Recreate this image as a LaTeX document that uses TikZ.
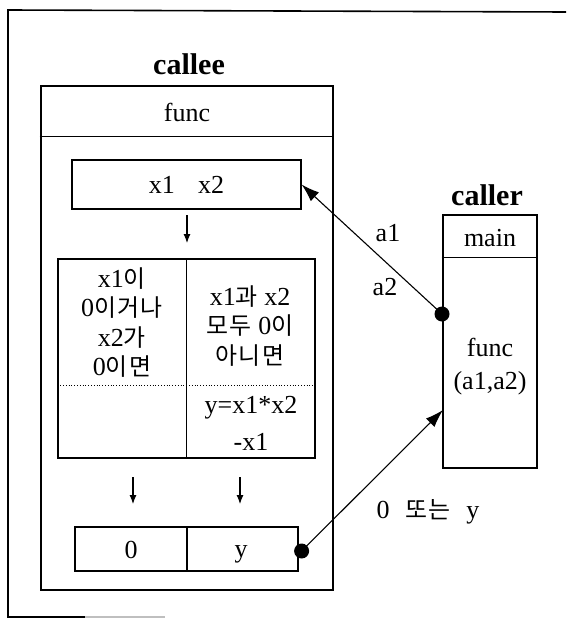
\documentclass[tikz,border=0pt]{standalone}
\usepackage{fontspec}
\setmainfont{Liberation Serif}
\newfontfamily\kr{Noto Sans CJK KR}[Scale=0.92, LetterSpace=6]
\newcommand{\K}[1]{{\kr #1}}
\usetikzlibrary{arrows.meta,calc}

\tikzset{
  txt/.style={inner sep=0pt, font=\fontsize{26}{29.5}\selectfont, align=center},
  head/.style={inner sep=0pt, font=\fontsize{30}{32}\selectfont\bfseries},
  frame/.style={draw, line width=2.6pt, inner sep=0pt},
  cell/.style={draw, line width=1.2pt, inner sep=0pt},
  conn/.style={line width=1.1pt, -{Latex[length=18pt,width=12pt]}},
  flow/.style={line width=1.1pt, -{Latex[length=9pt,width=7pt]}},
  dotnode/.style={circle, fill, inner sep=0pt, minimum size=15pt},
}

\begin{document}
\begin{tikzpicture}[x=1pt,y=-1pt]
\path[use as bounding box] (0,0) rectangle (567,618);

% page border
\draw[line width=1.6pt] (566,12) -- (8,10) -- (8,617) -- (85,617);
\draw[line width=1.2pt, black!25] (85,617) -- (165,617);

% ---------- callee ----------
\node[head] (calleelbl) at (189,64) {callee};
\node[frame, minimum width=292pt, minimum height=504pt] (callee) at (187,338) {};
\draw[line width=1.2pt] ($(callee.north west)+(0,52)$) -- ($(callee.north east)+(0,52)$);
\node[txt] (calleefunc) at (187,112) {func};

\node[cell, minimum width=229pt, minimum height=49pt] (x12) at (186.5,184.5) {};
\node[txt] at (x12.center) {x1\hspace{0.9em}x2};

\coordinate (f1a) at (187,215);
\coordinate (f1b) at (187,243);
\draw[flow] (f1a) -- (f1b);

% condition table
\node[cell, minimum width=257pt, minimum height=199pt] (tbl) at (186.5,358.5) {};
\draw[line width=1.2pt] (tbl.north) -- (tbl.south);
\draw[line width=0.8pt, dotted] ($(tbl.north west)+(0,127)$) -- ($(tbl.north east)+(0,127)$);
\node[txt] (condA) at (122,322.5) {x1\K{이}\\0\K{이거나}\\x2\K{가}\\0\K{이면}};
\node[txt] (condB) at (250,326) {x1\K{과} x2\\\K{모두} 0\K{이}\\\K{아니면}};
\node[txt] (calc1) at (251,408) {y=x1*x2};
\node[txt] (calc2) at (251,442) {-x1};

\coordinate (f2a) at (133,477);
\coordinate (f2b) at (133,504);
\coordinate (f3a) at (240,477);
\coordinate (f3b) at (240,504);
\draw[flow] (f2a) -- (f2b);
\draw[flow] (f3a) -- (f3b);

% result cells
\node[cell, minimum width=112pt, minimum height=44pt] (zero) at (131,549) {};
\node[cell, minimum width=111pt, minimum height=44pt] (ycell) at (242.5,549) {};
\node[txt, anchor=base] at (131,558) {0};
\node[txt, anchor=base] at (241,557) {y};

% ---------- caller ----------
\node[head] (callerlbl) at (487,195) {caller};
\node[frame, minimum width=94pt, minimum height=253pt] (caller) at (490,341.5) {};
\draw[line width=1.2pt] ($(caller.north west)+(0,44)$) -- ($(caller.north east)+(0,44)$);
\node[txt] (mainlbl) at (490,238) {main};
\node[txt] (callfunc) at (490,347) {func};
\node[txt] (callargs) at (490,383) {(a1,a2)};

% argument passing and return value
\node[dotnode] (d1) at (442,314) {};
\draw[conn] (d1.center) -- (x12.east);
\node[txt] (a1) at (388,233) {a1};
\node[txt] (a2) at (385,287) {a2};

\node[dotnode] (d2) at ($(ycell.east)+(3,2)$) {};
\coordinate (ret) at (443,410);
\draw[conn] (d2.center) -- (ret);
\node[txt] (retlbl) at (428,512) {0\hspace{0.6em}\K{또는}\hspace{0.6em}y};
\end{tikzpicture}
\end{document}
